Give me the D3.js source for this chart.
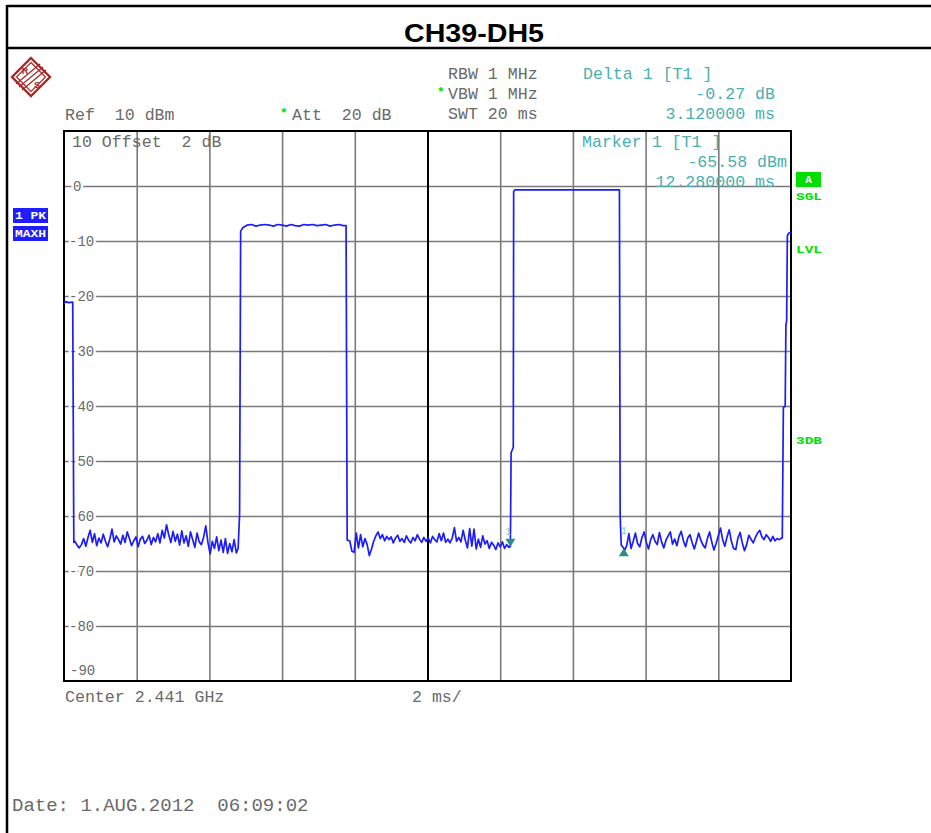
<!DOCTYPE html>
<html>
<head>
<meta charset="utf-8">
<script src="https://cdn.jsdelivr.net/npm/d3@7"></script>
<style>
  html, body { margin: 0; padding: 0; background: #fff; }
  svg { display: block; }
</style>
</head>
<body>
<svg id="chart" width="931" height="833"></svg>
<script>
// ---------------- DATA ----------------
const chartTitle = "CH39-DH5";
const sweepTimeMs = [0, 20];            // x domain (ms)
const levelRange = [-90, 10];           // y domain (dBm)
const timeGridMs = [2, 4, 6, 8, 10, 12, 14, 16, 18];
const levelGrid = [0, -10, -20, -30, -40, -50, -60, -70, -80];
const levelLabels = ["0", "-10", "-20", "-30", "-40", "-50", "-60", "-70", "-80"];
const bottomLabel = "-90";

// trace pieces: explicit [time ms, level dBm] points at the edges
const edgeStart = [[0, -21.4], [0.04, -21.0], [0.12, -21.2], [0.24, -21.1], [0.27, -64.8]];
const noiseAStart = 0.30, noiseStep = 0.06;
const noiseA = [-64.6, -65.3, -65.8, -65.2, -64.1, -65.5, -63.9, -62.6, -64.8, -63.2,
  -65.4, -64.0, -64.9, -63.3, -64.6, -65.6, -64.2, -62.4, -64.7, -63.6,
  -64.3, -65.1, -63.5, -64.8, -62.9, -64.1, -65.4, -64.5, -63.8, -65.6,
  -64.2, -63.7, -65.0, -64.4, -63.5, -65.2, -63.9, -64.7, -63.2, -64.9,
  -62.6, -64.0, -61.6, -63.4, -64.8, -62.8, -64.6, -63.3, -65.3, -62.7,
  -64.9, -63.6, -65.5, -62.9, -64.3, -65.7, -63.1, -64.7, -65.2, -63.9,
  -61.8, -64.8, -66.9, -64.6, -65.9, -63.8, -66.3, -64.4, -66.6, -64.1,
  -66.8, -65.0, -66.5, -64.3, -66.7];
const edgeRise1 = [[4.79, -65.9], [4.83, -59.8], [4.86, -8.2]];
const burst1Start = 4.92, burstStep = 0.12;
const burst1 = [-7.6, -7.1, -7.0, -7.3, -7.1, -7.0, -7.1, -7.3, -7.0, -7.1, -7.3, -7.0,
  -7.2, -7.3, -7.0, -7.1, -7.0, -7.2, -7.1, -7.0, -7.3, -7.1, -7.0, -7.2];
const edgeFall1 = [[7.76, -7.2], [7.79, -64.4]];
const noiseBStart = 7.86;
const noiseB = [-64.5, -66.4, -66.6, -63.1, -65.8, -63.4, -65.6, -64.1, -65.2, -67.2,
  -66.0, -64.6, -63.6, -62.9, -64.1, -63.4, -64.5, -63.7, -64.3, -63.8,
  -64.9, -64.0, -63.5, -64.6, -64.1, -64.8, -63.6, -64.4, -64.9, -63.9,
  -64.5, -63.4, -64.2, -64.8, -63.9, -64.6, -64.0, -64.9, -63.7, -64.3,
  -64.7, -63.2, -64.5, -63.1, -64.8, -64.2, -64.9, -64.0, -62.1, -64.6,
  -63.9, -64.7, -62.6, -64.4, -65.8, -62.3, -65.5, -62.4, -66.0, -64.2,
  -65.7, -63.6, -65.1, -64.5, -65.9, -64.8, -65.3, -66.1, -64.9, -65.6,
  -64.7, -65.9, -65.2, -65.7];
const edgeRise2 = [[12.28, -65.58], [12.30, -48.5], [12.36, -47.5], [12.37, -1.0]];
const burst2Start = 12.40;
const burst2 = [-0.7, -0.7, -0.7, -0.7, -0.7, -0.7, -0.7, -0.7, -0.7, -0.7, -0.7, -0.7,
  -0.7, -0.7, -0.7, -0.7, -0.7, -0.7, -0.7, -0.7, -0.7, -0.7, -0.7, -0.7];
const edgeFall2 = [[15.28, -0.7], [15.30, -60.0], [15.33, -65.3], [15.40, -65.85]];
const noiseCStart = 15.42;
const noiseC = [-66.3, -65.4, -63.2, -65.9, -64.6, -63.1, -65.0, -65.6, -63.9, -62.9,
  -64.8, -66.0, -64.3, -63.4, -64.6, -65.2, -63.0, -64.7, -65.8, -64.4,
  -63.6, -62.9, -65.1, -64.2, -65.4, -63.7, -62.8, -64.5, -65.6, -64.0,
  -63.4, -64.8, -66.0, -64.6, -63.1, -64.4, -65.3, -65.8, -64.1, -62.9,
  -64.7, -66.2, -65.0, -63.6, -62.2, -64.3, -65.5, -63.8, -62.5, -64.6,
  -65.9, -66.1, -64.0, -63.0, -64.9, -66.3, -65.2, -63.5, -64.2, -64.9,
  -63.9, -63.1, -62.6, -63.8, -64.3, -63.4, -63.9, -64.6, -63.7, -64.5,
  -64.1, -64.3, -64.0];
const edgeEnd = [[19.76, -64.0], [19.79, -40.3], [19.84, -40.0], [19.86, -25.3],
  [19.88, -24.5], [19.90, -9.0], [19.95, -8.5], [20.0, -8.4]];

const marker1 = [12.28, -65.58];
const deltaMarker = [15.40, -65.85];

const headerLeft = ["Ref  10 dBm", "Att  20 dB"];
const headerMid = ["RBW 1 MHz", "VBW 1 MHz", "SWT 20 ms"];
const deltaLines = ["Delta 1 [T1 ]", "-0.27 dB", "3.120000 ms"];
const markerLines = ["Marker 1 [T1 ]", "-65.58 dBm", "12.280000 ms"];
const offsetLabel = "10 Offset  2 dB";
const footerLeft = "Center 2.441 GHz";
const footerMid = "2 ms/";
const dateLabel = "Date: 1.AUG.2012  06:09:02";
const traceTags = ["1 PK", "MAXH"];
const sideTags = ["SGL", "LVL", "3DB"];

// ---------------- BUILD TRACE ----------------
function seq(start, step, vals) { return vals.map((v, i) => [start + i * step, v]); }
const trace = [].concat(
  edgeStart, seq(noiseAStart, noiseStep, noiseA), edgeRise1,
  seq(burst1Start, burstStep, burst1), edgeFall1,
  seq(noiseBStart, noiseStep, noiseB), edgeRise2,
  seq(burst2Start, burstStep, burst2), edgeFall2,
  seq(noiseCStart, noiseStep, noiseC), edgeEnd
);

// ---------------- DRAW ----------------
const svg = d3.select("#chart");
const W = 931, H = 833;
const plot = { left: 64, right: 791, top: 131, bottom: 681 };
const x = d3.scaleLinear().domain(sweepTimeMs).range([plot.left, plot.right]);
const y = d3.scaleLinear().domain(levelRange).range([plot.bottom, plot.top]);

const grayText = "#6a6a6a";
const teal = "#4ab0b0";
const green = "#00e000";
const mono = "'Liberation Mono', 'Courier New', monospace";

// frame
svg.append("line").attr("x1", 7).attr("x2", W).attr("y1", 6).attr("y2", 6)
  .attr("stroke", "#000").attr("stroke-width", 2.5);
svg.append("line").attr("x1", 7).attr("x2", W).attr("y1", 48).attr("y2", 48)
  .attr("stroke", "#000").attr("stroke-width", 2.5);
svg.append("line").attr("x1", 7).attr("x2", 7).attr("y1", 5).attr("y2", H)
  .attr("stroke", "#000").attr("stroke-width", 2.5);

// title
svg.append("text").attr("x", 474).attr("y", 42).attr("text-anchor", "middle")
  .attr("font-family", "'Liberation Sans', Arial, sans-serif").attr("font-weight", "bold")
  .attr("font-size", 26).attr("fill", "#000").attr("textLength", 140).attr("lengthAdjust", "spacingAndGlyphs")
  .text(chartTitle);

// logo (R&S)
const logo = svg.append("g").attr("transform", "translate(31,77)");
const dia = s => `M0,${-s} L${s},0 L0,${s} L${-s},0 Z`;
logo.append("path").attr("d", dia(19)).attr("fill", "none").attr("stroke", "#a52a2a").attr("stroke-width", 2.4);
logo.append("path").attr("d", dia(14.5)).attr("fill", "none").attr("stroke", "#a52a2a").attr("stroke-width", 1.2);
[-3, 0, 3].forEach(o => {
  logo.append("line").attr("x1", -12 + o).attr("y1", 10 + o).attr("x2", 12 + o).attr("y2", -10 + o)
    .attr("stroke", "#a52a2a").attr("stroke-width", 1.3);
});
logo.append("text").attr("x", -6).attr("y", -3).attr("text-anchor", "middle")
  .attr("font-family", "'Liberation Sans', Arial").attr("font-weight", "bold").attr("font-size", 9)
  .attr("fill", "#a52a2a").text("R");
logo.append("text").attr("x", 6).attr("y", 11).attr("text-anchor", "middle")
  .attr("font-family", "'Liberation Sans', Arial").attr("font-weight", "bold").attr("font-size", 9)
  .attr("fill", "#a52a2a").text("S");

// header texts
const txt = (xx, yy, s, opts = {}) => svg.append("text").attr("x", xx).attr("y", yy)
  .attr("font-family", mono).attr("font-size", opts.size || 16.6)
  .attr("fill", opts.fill || grayText).attr("text-anchor", opts.anchor || "start")
  .attr("xml:space", "preserve").style("white-space", "pre").text(s);

txt(65, 120, headerLeft[0]);
txt(292, 120, headerLeft[1]);
txt(448, 79, headerMid[0]);
txt(448, 99, headerMid[1]);
txt(448, 119, headerMid[2]);
// green stars
const star = (xx, yy) => svg.append("text").attr("x", xx).attr("y", yy).attr("font-family", mono)
  .attr("font-size", 13).attr("fill", green).attr("font-weight", "bold").text("*");
star(280, 117); star(437, 96);

txt(583, 79, deltaLines[0], { fill: teal });
txt(775, 99, deltaLines[1], { fill: teal, anchor: "end" });
txt(775, 119, deltaLines[2], { fill: teal, anchor: "end" });

// grid via d3 axes
const gridY = svg.append("g").attr("transform", `translate(${plot.left},0)`)
  .call(d3.axisLeft(y).tickValues(levelGrid).tickSize(-(plot.right - plot.left)).tickFormat(""));
gridY.select(".domain").remove();
gridY.selectAll("line").attr("stroke", "#7a7a7a").attr("stroke-width", 1.6);

const gridX = svg.append("g").attr("transform", `translate(0,${plot.bottom})`)
  .call(d3.axisBottom(x).tickValues(timeGridMs).tickSize(-(plot.bottom - plot.top)).tickFormat(""));
gridX.select(".domain").remove();
gridX.selectAll("line").attr("stroke", d => d === 10 ? "#000" : "#7a7a7a")
  .attr("stroke-width", d => d === 10 ? 2 : 1.6);

// plot border
svg.append("rect").attr("x", plot.left).attr("y", plot.top)
  .attr("width", plot.right - plot.left).attr("height", plot.bottom - plot.top)
  .attr("fill", "none").attr("stroke", "#000").attr("stroke-width", 2);

// level labels (with white halo interrupting grid lines)
levelGrid.forEach((v, i) => {
  svg.append("text").attr("x", v === 0 ? 73 : 69).attr("y", y(v) + 5)
    .attr("font-family", mono).attr("font-size", 14).attr("fill", grayText)
    .attr("stroke", "#fff").attr("stroke-width", 5).attr("paint-order", "stroke")
    .text(levelLabels[i]);
});
svg.append("text").attr("x", 70).attr("y", 675).attr("font-family", mono).attr("font-size", 14)
  .attr("fill", grayText).text(bottomLabel);

// offset label + marker block (over grid)
txt(72, 147, offsetLabel);
txt(582, 147, markerLines[0], { fill: teal });
txt(787, 167, markerLines[1], { fill: teal, anchor: "end" });
txt(775, 187, markerLines[2], { fill: teal, anchor: "end" });

// trace
const line = d3.line().x(d => x(d[0])).y(d => y(d[1]));
svg.append("path").datum(trace).attr("d", line).attr("fill", "none")
  .attr("stroke", "#1c1cff").attr("stroke-width", 1.7).attr("stroke-linejoin", "round");

// markers
const mk = "#2a8c8c";
const m1x = x(marker1[0]), m1y = y(marker1[1]);
svg.append("path").attr("d", `M${m1x - 5},${m1y - 8} L${m1x + 5},${m1y - 8} L${m1x},${m1y} Z`).attr("fill", mk);
svg.append("text").attr("x", m1x - 2).attr("y", m1y - 12).attr("font-family", mono).attr("font-size", 10)
  .attr("fill", "#7fbfbf").attr("text-anchor", "middle").text("1");
const dmx = x(deltaMarker[0]), dmy = y(deltaMarker[1]);
svg.append("path").attr("d", `M${dmx - 5},${dmy + 8} L${dmx + 5},${dmy + 8} L${dmx},${dmy} Z`).attr("fill", mk);
svg.append("text").attr("x", dmx).attr("y", dmy - 14).attr("font-family", mono).attr("font-size", 10)
  .attr("fill", "#7fbfbf").attr("text-anchor", "middle").text("1");

// left trace tags
traceTags.forEach((t, i) => {
  const yy = 208 + i * 18;
  svg.append("rect").attr("x", 13).attr("y", yy).attr("width", 35).attr("height", 15).attr("fill", "#1e1eff");
  svg.append("text").attr("x", 15).attr("y", yy + 11).attr("font-family", mono).attr("font-weight", "bold")
    .attr("font-size", 11).attr("fill", "#fff").attr("textLength", 31).attr("lengthAdjust", "spacingAndGlyphs")
    .attr("xml:space", "preserve").text(t);
});

// right side tags
svg.append("rect").attr("x", 796).attr("y", 172).attr("width", 25).attr("height", 15).attr("fill", green);
svg.append("text").attr("x", 808.5).attr("y", 183).attr("text-anchor", "middle").attr("font-family", mono)
  .attr("font-weight", "bold").attr("font-size", 11).attr("fill", "#fff").text("A");
[200, 253, 444].forEach((yy, i) => {
  svg.append("text").attr("x", 796).attr("y", yy).attr("font-family", mono).attr("font-weight", "bold")
    .attr("font-size", 11).attr("fill", green).attr("textLength", 26).attr("lengthAdjust", "spacingAndGlyphs")
    .text(sideTags[i]);
});

// footer
txt(65, 702, footerLeft);
txt(412, 702, footerMid);
txt(12, 811, dateLabel, { size: 19 });
</script>
</body>
</html>
